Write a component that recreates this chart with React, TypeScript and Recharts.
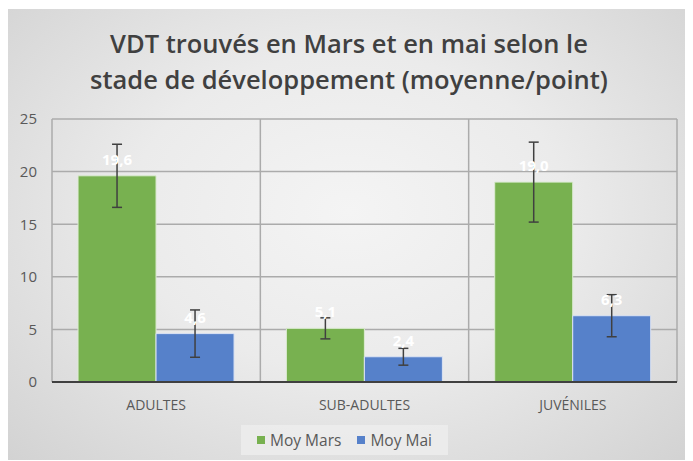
import React from "react";
import {
  BarChart,
  Bar,
  XAxis,
  YAxis,
  CartesianGrid,
  ErrorBar,
  LabelList,
  Legend,
} from "recharts";

const stages = ["ADULTES", "SUB-ADULTES", "JUVÉNILES"];
const moyMars = [19.6, 5.1, 19.0];
const moyMai = [4.6, 2.4, 6.3];
const errMars = [3.0, 1.0, 3.8];
const errMai = [2.25, 0.8, 2.0];
const yTicks = [0, 5, 10, 15, 20, 25];
const seriesNames = ["Moy Mars", "Moy Mai"];
const seriesColors = ["#78b150", "#5681ca"];

const data = stages.map((stage, i) => ({
  stage,
  mars: moyMars[i],
  mai: moyMai[i],
  errMars: errMars[i],
  errMai: errMai[i],
}));

const W = 686;
const H = 451;
const FONT = "'Open Sans', 'Noto Sans', sans-serif";

const fmt = (v: any) => Number(v).toFixed(1).replace(".", ",");

const LegendBox = () => (
  <div
    style={{
      display: "inline-flex",
      alignItems: "center",
      gap: 16,
      background: "rgba(236,236,236,0.9)",
      padding: "4px 16px",
      fontFamily: FONT,
      fontSize: 15.5,
      color: "#595959",
    }}
  >
    {seriesNames.map((name, i) => (
      <span key={name} style={{ display: "inline-flex", alignItems: "center" }}>
        <span
          style={{
            width: 8,
            height: 8,
            background: seriesColors[i],
            display: "inline-block",
            marginRight: 5,
          }}
        />
        {name}
      </span>
    ))}
  </div>
);

export default function App() {
  return (
    <div
      style={{
        position: "relative",
        width: W,
        height: H,
        marginLeft: -2,
        marginTop: 1,
        background:
          "radial-gradient(ellipse at 50% 45%, #f4f4f4 0%, #ebebeb 45%, #d2d2d2 100%)",
        fontFamily: FONT,
      }}
    >
      <div
        style={{
          position: "absolute",
          top: 16,
          left: 0,
          width: W,
          textAlign: "center",
          fontSize: 25.5,
          fontWeight: 600,
          lineHeight: "36px",
          color: "#404040",
        }}
      >
        VDT trouvés en Mars et en mai selon le
        <br />
        stade de développement (moyenne/point)
      </div>
      <BarChart
        width={W}
        height={H}
        data={data}
        margin={{ top: 110, right: 15, bottom: 18, left: 6 }}
        barCategoryGap="12.5%"
        barGap={0}
      >
        <CartesianGrid
          stroke="#ababab"
          strokeWidth={1.5}
          verticalCoordinatesGenerator={({ offset }: any) =>
            [0, 1, 2, 3].map((i) => offset.left + (i * offset.width) / stages.length)
          }
        />
        <XAxis
          dataKey="stage"
          tick={{ fontSize: 14, fill: "#595959", fontFamily: FONT }}
          tickLine={false}
          axisLine={{ stroke: "#404040", strokeWidth: 2 }}
          tickMargin={12}
        />
        <YAxis
          domain={[0, 25]}
          ticks={yTicks}
          width={40}
          tick={{ fontSize: 15, fill: "#595959", fontFamily: FONT }}
          tickLine={false}
          axisLine={false}
          tickMargin={9}
        />
        <Legend
          verticalAlign="bottom"
          align="center"
          content={<LegendBox />}
          wrapperStyle={{ bottom: 5, textAlign: "center" }}
        />
        <Bar
          dataKey="mars"
          name={seriesNames[0]}
          fill={seriesColors[0]}
          stroke="#dcebd2"
          strokeWidth={1}
          isAnimationActive={false}
        >
          <ErrorBar dataKey="errMars" width={5} stroke="#404040" strokeWidth={1.5} />
          <LabelList
            dataKey="mars"
            position="top"
            offset={11}
            formatter={fmt}
            fill="#ffffff"
            fontSize={15}
            fontWeight={700}
            fontFamily={FONT}
          />
        </Bar>
        <Bar
          dataKey="mai"
          name={seriesNames[1]}
          fill={seriesColors[1]}
          stroke="#dbe3f3"
          strokeWidth={1}
          isAnimationActive={false}
        >
          <ErrorBar dataKey="errMai" width={5} stroke="#404040" strokeWidth={1.5} />
          <LabelList
            dataKey="mai"
            position="top"
            offset={11}
            formatter={fmt}
            fill="#ffffff"
            fontSize={15}
            fontWeight={700}
            fontFamily={FONT}
          />
        </Bar>
      </BarChart>
    </div>
  );
}
